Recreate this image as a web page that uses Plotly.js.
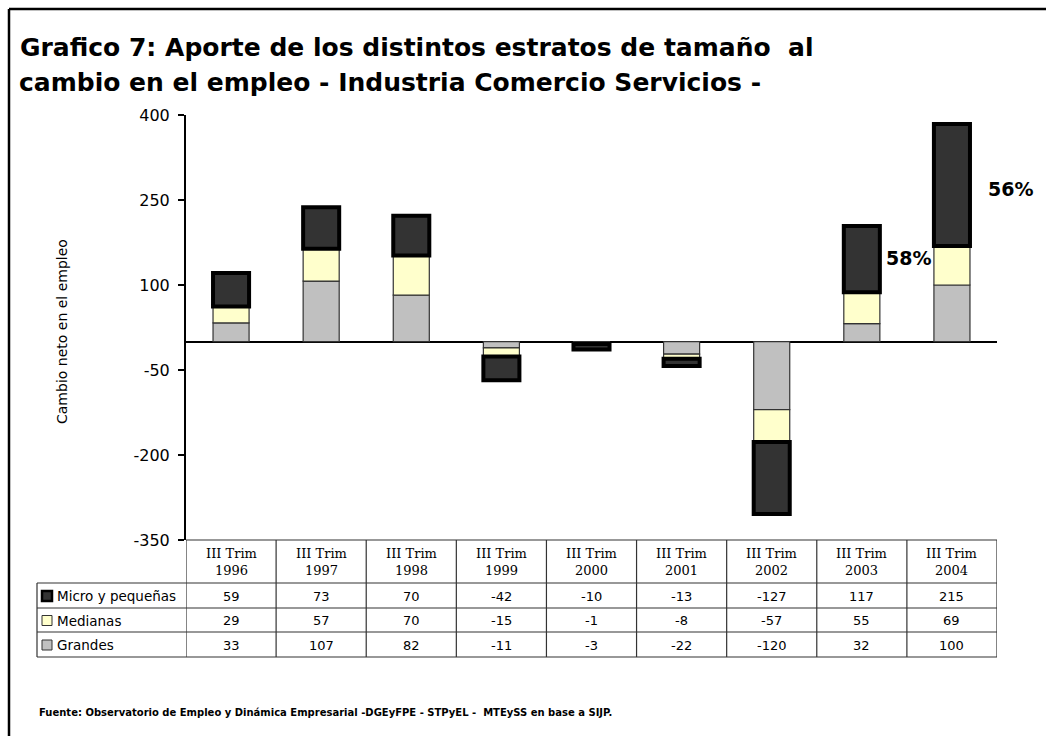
<!DOCTYPE html>
<html>
<head>
<meta charset="utf-8">
<script src="https://cdn.plot.ly/plotly-3.0.1.min.js"></script>
<style>html,body{margin:0;padding:0;background:#fff;}#chart{width:1046px;height:736px;}</style>
</head>
<body>
<div id="chart"></div>
<script>
// ---- data ----
const categories = ["III Trim 1996","III Trim 1997","III Trim 1998","III Trim 1999","III Trim 2000","III Trim 2001","III Trim 2002","III Trim 2003","III Trim 2004"];
const headerLine1 = ["III Trim","III Trim","III Trim","III Trim","III Trim","III Trim","III Trim","III Trim","III Trim"];
const headerLine2 = ["1996","1997","1998","1999","2000","2001","2002","2003","2004"];
const microPeq = [59, 73, 70, -42, -10, -13, -127, 117, 215];
const medianas = [29, 57, 70, -15, -1, -8, -57, 55, 69];
const grandes  = [33, 107, 82, -11, -3, -22, -120, 32, 100];
const seriesNames = ["Micro y pequeñas", "Medianas", "Grandes"];
const pctLabels = [{cat: 7, text: "58%", y: 148, dx: 0.25}, {cat: 8, text: "56%", y: 269, dx: 0.38}];
const yTicks = [-350, -200, -50, 100, 250, 400];
const titleLines = ["Grafico 7: Aporte de los distintos estratos de tamaño  al", "cambio en el empleo - Industria Comercio Servicios -"];

// ---- geometry helpers (plot area: x 186..997, y 115..540 px) ----
const W = 1046, H = 736;
const L = 186, R = 997, T = 115, B = 540;
const px = v => (v - L) / (R - L);
const py = v => (B - v) / (B - T);

const FONT = "DejaVu Sans, Verdana, sans-serif";
const SERIF = "DejaVu Serif, Liberation Serif, serif";
const colors = {micro: "#333333", med: "#FFFFCC", gr: "#C0C0C0"};

const traces = [
  {type: "bar", name: seriesNames[2], x: categories, y: grandes, width: 0.4,
   marker: {color: colors.gr, line: {color: "#333333", width: 1.2}}, hoverinfo: "y"},
  {type: "bar", name: seriesNames[1], x: categories, y: medianas, width: 0.4,
   marker: {color: colors.med, line: {color: "#333333", width: 1.2}}, hoverinfo: "y"},
  {type: "bar", name: seriesNames[0], x: categories, y: microPeq, width: 0.4,
   marker: {color: colors.micro, line: {color: "#000000", width: 4}}, hoverinfo: "y"}
];

const shapes = [];
const annotations = [];
const line = (x0, y0, x1, y1, w, c) => shapes.push({type: "line", xref: "paper", yref: "paper",
  x0: x0, y0: y0, x1: x1, y1: y1, line: {color: c || "#000", width: w || 1}});

// outer frame (top & left)
line(px(9), py(9), px(W), py(9), 2.5);
line(px(9), py(9), px(9), py(H), 2.5);

// table grid
const rowY = [540, 583, 608, 632, 657];
line(0, py(540), 1, py(540), 1.2, "#333");
for (let r = 1; r < rowY.length; r++) line(px(37), py(rowY[r]), 1, py(rowY[r]), 1.2, "#333");
line(px(37), py(583), px(37), py(657), 1.2, "#333");
for (let i = 0; i <= categories.length; i++) {
  shapes.push({type: "line", xref: "x", yref: "paper", x0: i - 0.5, x1: i - 0.5, y0: py(540), y1: py(657),
    line: {color: "#333", width: 1.2}});
}

// table header
categories.forEach((c, i) => {
  annotations.push({xref: "x", yref: "paper", x: i, y: py(562), text: headerLine1[i] + "<br>" + headerLine2[i],
    showarrow: false, font: {family: SERIF, size: 13, color: "#000"},
    xanchor: "center", yanchor: "middle"});
});
// table rows
const rows = [microPeq, medianas, grandes];
const rowCenters = [596, 620.5, 645];
const keyColors = [[colors.micro, "#000", 2.5], [colors.med, "#333", 1], [colors.gr, "#333", 1]];
rows.forEach((arr, r) => {
  arr.forEach((v, i) => {
    annotations.push({xref: "x", yref: "paper", x: i, y: py(rowCenters[r]), text: String(v), showarrow: false,
      font: {family: FONT, size: 13, color: "#000"}, xanchor: "center", yanchor: "middle"});
  });
  annotations.push({xref: "paper", yref: "paper", x: px(55), y: py(rowCenters[r]), text: seriesNames[r], showarrow: false,
    font: {family: FONT, size: 13.5, color: "#000"}, xanchor: "left", yanchor: "middle"});
  shapes.push({type: "rect", xref: "paper", yref: "paper", x0: px(42), x1: px(52),
    y0: py(rowCenters[r] - 5), y1: py(rowCenters[r] + 5),
    fillcolor: keyColors[r][0], line: {color: keyColors[r][1], width: keyColors[r][2]}});
});

// percentage labels
pctLabels.forEach(p => {
  annotations.push({xref: "x", yref: "y", x: p.cat + p.dx, y: p.y, text: "<b>" + p.text + "</b>", showarrow: false,
    font: {family: FONT, size: 19, color: "#000"}, xanchor: "left", yanchor: "middle"});
});

// title second line
annotations.push({xref: "paper", yref: "paper", x: px(17), y: py(82), text: "<b>" + titleLines[1] + "</b>",
  showarrow: false, font: {family: FONT, size: 25, color: "#000"}, xanchor: "left", yanchor: "middle"});

// y axis title
annotations.push({xref: "paper", yref: "paper", x: px(62), y: py(332), text: "Cambio neto en el empleo",
  textangle: -90, showarrow: false, font: {family: FONT, size: 14, color: "#000"}, xanchor: "center", yanchor: "middle"});

// source note
annotations.push({xref: "paper", yref: "paper", x: px(37), y: py(712), text: "<b>Fuente: Observatorio de Empleo y Dinámica Empresarial -DGEyFPE - STPyEL -  MTEySS en base a SIJP.</b>",
  showarrow: false, font: {family: FONT, size: 10, color: "#000"}, xanchor: "left", yanchor: "middle"});

const layout = {
  width: W, height: H,
  margin: {l: L, r: W - R, t: T, b: H - B, pad: 0},
  paper_bgcolor: "#fff", plot_bgcolor: "#fff",
  showlegend: false,
  barmode: "relative",
  title: {text: "<b>" + titleLines[0] + "</b>",
    xref: "container", yref: "container", x: 20 / W, xanchor: "left", y: 1 - 47 / H, yanchor: "middle",
    font: {family: FONT, size: 25, color: "#000"}},
  xaxis: {type: "category", range: [-0.5, categories.length - 0.5], showticklabels: false, showline: false,
    showgrid: false, zeroline: false, ticks: "", fixedrange: true},
  yaxis: {range: [-350, 400], tickvals: yTicks, ticktext: yTicks.map(String), ticks: "outside", ticklen: 6,
    tickwidth: 2, tickcolor: "#000", showline: true, linecolor: "#000", linewidth: 2, showgrid: false,
    zeroline: true, zerolinecolor: "#000", zerolinewidth: 2, ticklabelstandoff: 5,
    tickfont: {family: FONT, size: 16, color: "#000"}, fixedrange: true},
  shapes: shapes,
  annotations: annotations
};

Plotly.newPlot("chart", traces, layout, {displayModeBar: false, staticPlot: true});
</script>
</body>
</html>
